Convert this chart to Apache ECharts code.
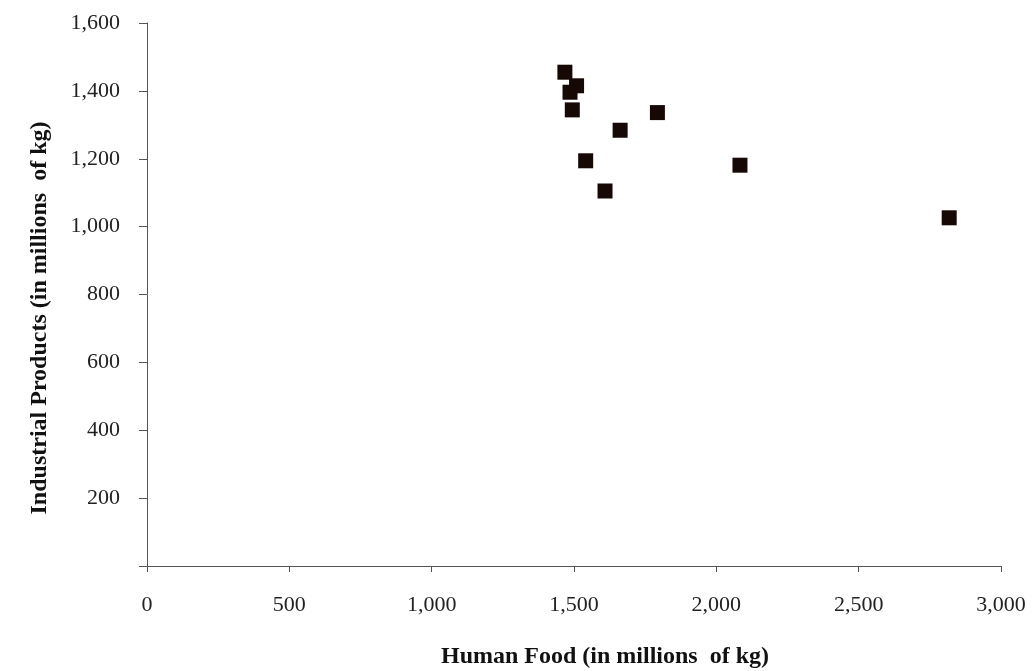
<!DOCTYPE html>
<html><head><meta charset="utf-8">
<script src="https://cdn.jsdelivr.net/npm/echarts@6/dist/echarts.min.js"></script>
<style>html,body{margin:0;padding:0;background:#fff}#c{width:1034px;height:671px}</style>
</head><body><div id="c"></div>
<script>
const humanFood = [1468, 1509, 1486, 1494, 1662, 1793, 1541, 1609, 2083, 2818];
const industrialProducts = [1455, 1415, 1396, 1344, 1284, 1336, 1194, 1105, 1181, 1026];
const xTitle = 'Human Food (in millions  of kg)';
const yTitle = 'Industrial Products (in millions  of kg)';

const fmt = v => v === 0 ? '' : v.toLocaleString('en-US');
const titleStyle = {fontFamily: 'Liberation Serif', fontSize: 24, fontWeight: 'bold', fill: '#111'};
const chart = echarts.init(document.getElementById('c'));
chart.setOption({
  backgroundColor: '#fff',
  animation: false,
  grid: {left: 147, right: 33, top: 23, bottom: 105},
  graphic: [
    {type: 'text', x: 605, y: 657, style: Object.assign({text: xTitle, align: 'center', verticalAlign: 'middle'}, titleStyle)},
    {type: 'text', x: 40, y: 318, rotation: Math.PI / 2, style: Object.assign({text: yTitle, align: 'center', verticalAlign: 'middle'}, titleStyle)}
  ],
  xAxis: {
    type: 'value', min: 0, max: 3000, interval: 500,
    axisLine: {show: true, onZero: false, lineStyle: {color: '#555', width: 1}},
    axisTick: {show: true, length: 6, lineStyle: {color: '#555'}},
    axisLabel: {formatter: v => v.toLocaleString('en-US'), margin: 28, fontFamily: 'Liberation Serif', fontSize: 22, color: '#222'},
    splitLine: {show: false}
  },
  yAxis: {
    type: 'value', min: 0, max: 1600, interval: 200,
    axisLine: {show: true, lineStyle: {color: '#555', width: 1}},
    axisTick: {show: true, length: 8, lineStyle: {color: '#555'}},
    axisLabel: {formatter: fmt, margin: 27, fontFamily: 'Liberation Serif', fontSize: 22, color: '#222'},
    splitLine: {show: false}
  },
  series: [{
    type: 'scatter',
    symbol: 'rect',
    symbolSize: 15,
    itemStyle: {color: '#150805', opacity: 1},
    data: humanFood.map((x, i) => [x, industrialProducts[i]])
  }]
});
</script></body></html>
